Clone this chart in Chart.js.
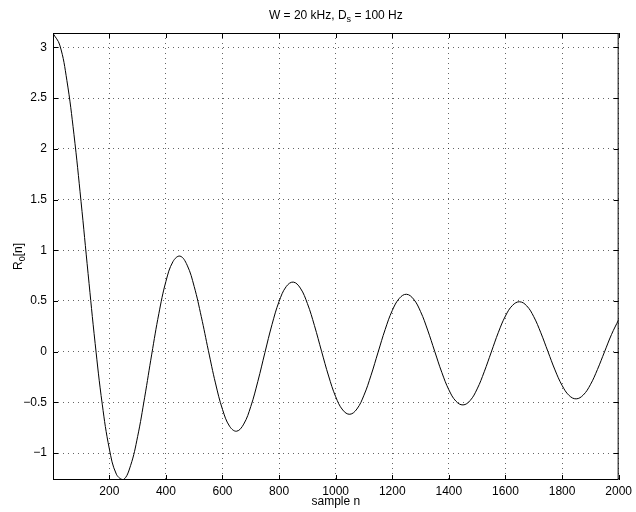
<!DOCTYPE html>
<html>
<head>
<meta charset="utf-8">
<script src="https://cdn.jsdelivr.net/npm/chart.js@4.4.0/dist/chart.umd.min.js"></script>
<style>
  body{margin:0;background:#fff;}
  #wrap{width:636px;height:512px;}
</style>
</head>
<body>
<div id="wrap"><canvas id="r0Chart" width="636" height="512"></canvas></div>
<script>
// sample index n (every 25 samples)
const sampleN = [0,25,50,75,100,125,150,175,200,225,250,275,300,325,350,375,400,425,450,475,
  500,525,550,575,600,625,650,675,700,725,750,775,800,825,850,875,900,925,950,975,
  1000,1025,1050,1075,1100,1125,1150,1175,1200,1225,1250,1275,1300,1325,1350,1375,1400,1425,1450,1475,
  1500,1525,1550,1575,1600,1625,1650,1675,1700,1725,1750,1775,1800,1825,1850,1875,1900,1925,1950,1975,2000];

// R0[n]
const r0 = [3.142,3.022,2.675,2.143,1.483,0.770,0.080,-0.517,-0.956,-1.208,-1.260,-1.124,-0.838,-0.449,-0.024,0.374,0.692,0.888,0.942,0.853,
  0.642,0.346,0.012,-0.308,-0.569,-0.735,-0.784,-0.714,-0.540,-0.292,-0.008,0.268,0.495,0.641,0.686,0.627,0.475,0.257,0.005,-0.240,
  -0.444,-0.575,-0.617,-0.565,-0.429,-0.232,-0.004,0.220,0.406,0.526,0.566,0.519,0.395,0.213,0.003,-0.204,-0.376,-0.488,-0.525,-0.482,
  -0.367,-0.198,-0.003,0.191,0.352,0.457,0.492,0.452,0.345,0.186,0.002,-0.180,-0.332,-0.432,-0.465,-0.427,-0.326,-0.176,-0.002,0.171,0.315];

const xTicks = [200,400,600,800,1000,1200,1400,1600,1800,2000];
const yTicks = [-1,-0.5,0,0.5,1,1.5,2,2.5,3];

const FONT = '"Liberation Sans", Arial, Helvetica, sans-serif';

// text with a subscript piece, centred on cx
const subText = (ctx, parts, cx, cy) => {
  let w = 0;
  parts.forEach(p => {
    ctx.font = (p.sub ? '9px ' : '12px ') + FONT;
    w += ctx.measureText(p.t).width;
  });
  let x = cx - w/2;
  ctx.textAlign = 'left';
  ctx.textBaseline = 'alphabetic';
  parts.forEach(p => {
    ctx.font = (p.sub ? '9px ' : '12px ') + FONT;
    ctx.fillText(p.t, x, cy + (p.sub ? 3 : 0));
    x += ctx.measureText(p.t).width;
  });
}

const framePlugin = {
  id: 'frame',
  afterDatasetsDraw(chart){
    const ctx = chart.ctx, a = chart.chartArea;
    const xs = chart.scales.x, ys = chart.scales.y;
    const tl = 5;
    ctx.save();
    ctx.strokeStyle = '#000';
    ctx.lineWidth = 1;
    ctx.strokeRect(a.left+0.5, a.top+0.5, a.right-a.left-1, a.bottom-a.top-1);
    ctx.beginPath();
    xTicks.forEach(v => {
      const px = Math.round(xs.getPixelForValue(v)) + 0.5;
      ctx.moveTo(px, a.bottom); ctx.lineTo(px, a.bottom - tl);
      ctx.moveTo(px, a.top); ctx.lineTo(px, a.top + tl);
    });
    yTicks.forEach(v => {
      const py = Math.round(ys.getPixelForValue(v)) + 0.5;
      ctx.moveTo(a.left, py); ctx.lineTo(a.left + tl, py);
      ctx.moveTo(a.right, py); ctx.lineTo(a.right - tl, py);
    });
    ctx.stroke();
    ctx.restore();
  },
  afterDraw(chart){
    const ctx = chart.ctx, a = chart.chartArea;
    const cx = (a.left + a.right)/2;
    ctx.save();
    ctx.fillStyle = '#000';
    // title
    subText(ctx, [{t:'W = 20 kHz, D'},{t:'s',sub:true},{t:' = 100 Hz'}], cx, 19);
    // x label
    ctx.font = '12px ' + FONT;
    ctx.textAlign = 'center';
    ctx.textBaseline = 'alphabetic';
    ctx.fillText('sample n', cx, 505);
    // y label, rotated
    ctx.translate(22, (a.top + a.bottom)/2);
    ctx.rotate(-Math.PI/2);
    subText(ctx, [{t:'R'},{t:'0',sub:true},{t:'[n]'}], 0, 0);
    ctx.restore();
  }
};

const gridStyle = {
  color: 'rgba(0,0,0,0.6)',
  lineWidth: 1,
  drawTicks: false
};

new Chart('r0Chart', {
  type: 'line',
  data: {
    labels: sampleN,
    datasets: [{
      data: sampleN.map((n,i) => ({x:n, y:r0[i]})),
      borderColor: '#000',
      borderWidth: 1,
      pointRadius: 0,
      tension: 0.4,
      fill: false
    }]
  },
  options: {
    responsive: false,
    animation: false,
    devicePixelRatio: 1,
    layout: {padding: {left: 0, right: 16, top: 33, bottom: 0}},
    plugins: {legend: {display: false}, tooltip: {enabled: false}, title: {display: false}},
    scales: {
      x: {
        type: 'linear',
        min: 1, max: 2000,
        afterBuildTicks: s => { s.ticks = xTicks.map(v => ({value: v})); },
        afterFit: s => { s.height = 32; },
        grid: Object.assign({}, gridStyle),
        border: {display: false, dash: [1,4]},
        ticks: {
          padding: 4, color: '#000', font: {family: FONT, size: 12}, maxRotation: 0, autoSkip: false,
          callback: v => String(v)
        }
      },
      y: {
        min: -1.265, max: 3.1416,
        afterBuildTicks: s => { s.ticks = yTicks.map(v => ({value: v})); },
        afterFit: s => { s.width = 53; },
        grid: Object.assign({}, gridStyle),
        border: {display: false, dash: [1,4]},
        ticks: {
          padding: 6, color: '#000', font: {family: FONT, size: 12}, autoSkip: false,
          callback: v => String(v).replace('-', '\u2212')
        }
      }
    }
  },
  plugins: [framePlugin]
});
</script>
</body>
</html>
